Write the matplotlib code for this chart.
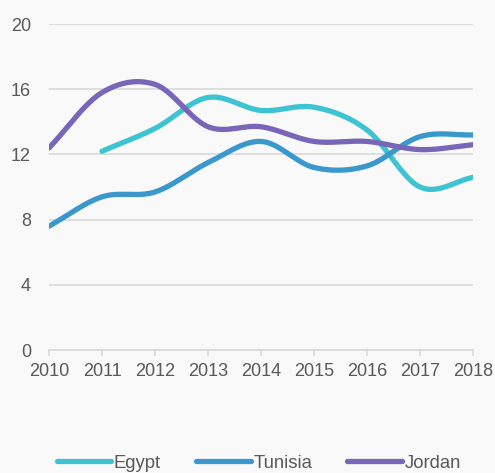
import numpy as np
import matplotlib
matplotlib.use("Agg")
import matplotlib.pyplot as plt
from matplotlib.lines import Line2D

years = [2010, 2011, 2012, 2013, 2014, 2015, 2016, 2017, 2018]
egypt = [None, 12.2, 13.6, 15.5, 14.7, 14.9, 13.5, 10.0, 10.6]
tunisia = [7.6, 9.4, 9.7, 11.5, 12.8, 11.2, 11.3, 13.1, 13.2]
jordan = [12.4, 15.8, 16.3, 13.7, 13.7, 12.8, 12.8, 12.3, 12.6]

names = ["Egypt", "Tunisia", "Jordan"]
colors = ["#3ec3d3", "#3a98cd", "#7a66b9"]


def smooth(xs, ys, n=40):
    # cardinal spline through the points
    xs = np.asarray(xs, float)
    ys = np.asarray(ys, float)
    m = len(xs)
    t = np.zeros(m)
    for i in range(m):
        if i == 0:
            t[i] = (ys[1] - ys[0]) / (xs[1] - xs[0])
        elif i == m - 1:
            t[i] = (ys[-1] - ys[-2]) / (xs[-1] - xs[-2])
        else:
            t[i] = (ys[i + 1] - ys[i - 1]) / (xs[i + 1] - xs[i - 1])
    ox, oy = [], []
    for i in range(m - 1):
        h = xs[i + 1] - xs[i]
        s = np.linspace(0, 1, n, endpoint=(i == m - 2))
        h00 = 2 * s**3 - 3 * s**2 + 1
        h10 = s**3 - 2 * s**2 + s
        h01 = -2 * s**3 + 3 * s**2
        h11 = s**3 - s**2
        ox.extend(xs[i] + s * h)
        oy.extend(h00 * ys[i] + h10 * h * t[i] + h01 * ys[i + 1] + h11 * h * t[i + 1])
    return np.array(ox), np.array(oy)


plt.rcParams['font.family'] = ['Liberation Sans', 'DejaVu Sans']
bg = "#f9f9f9"
txt = "#595959"
fs = 13

fig = plt.figure(figsize=(4.95, 4.73), dpi=100, facecolor=bg)
ax = fig.add_axes([0.099, 0.26, 0.857, 0.689])
ax.set_facecolor(bg)

for name, vals, c in zip(names, [egypt, tunisia, jordan], colors):
    xs = [y for y, v in zip(years, vals) if v is not None]
    ys = [v for v in vals if v is not None]
    sx, sy = smooth(xs, ys)
    ax.plot(sx, sy, color=c, lw=3.8, solid_capstyle='round', zorder=3)

ax.set_xlim(2010, 2018)
ax.set_ylim(0, 20)
ax.set_yticks([0, 4, 8, 12, 16, 20])
ax.set_xticks(years)
ax.grid(axis='y', color="#d9d9d9", lw=1.2)
ax.set_axisbelow(True)
for s in ['top', 'right', 'left']:
    ax.spines[s].set_visible(False)
ax.spines['bottom'].set_color("#d9d9d9")
ax.spines['bottom'].set_linewidth(1.2)
ax.tick_params(axis='y', length=0, pad=13, labelsize=fs, labelcolor=txt)
ax.tick_params(axis='x', length=4, width=1.2, color="#d9d9d9", pad=5, labelsize=fs, labelcolor=txt)

handles = [Line2D([0], [0], color=c, lw=3.8, solid_capstyle='round') for c in colors]
fig.legend(handles, names, loc='lower center', bbox_to_anchor=(0.523, -0.032), ncol=3,
           frameon=False, handlelength=2.95, handletextpad=0.15, columnspacing=1.9,
           fontsize=13.3, labelcolor=txt)

fig.savefig("out.png", dpi=100, facecolor=bg)
